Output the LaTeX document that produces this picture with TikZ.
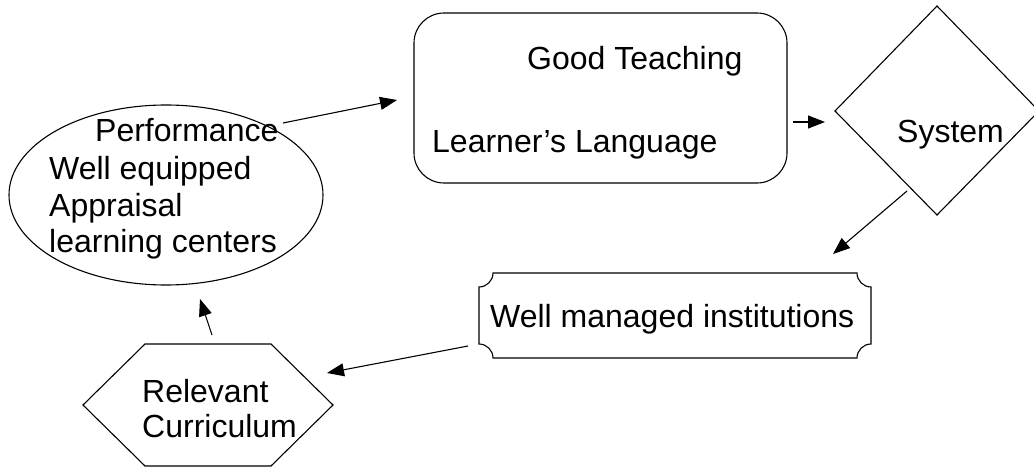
\documentclass[tikz,border=0pt]{standalone}
\usepackage{fontspec}
\setmainfont{Liberation Sans}
\usetikzlibrary{arrows.meta,shapes.geometric}
\tikzset{
  shape line/.style={draw=black, line width=1.1pt},
  txt/.style={anchor=base west, inner sep=0pt, font=\fontsize{32}{38}\selectfont},
  conn/.style={draw=black, line width=1.1pt, -{Triangle[length=17pt,width=13pt]}}
}
\begin{document}
\begin{tikzpicture}[x=1pt,y=-1pt]
\useasboundingbox (0,0) rectangle (1034,468);
% ellipse
\node[shape line, ellipse, minimum width=314pt, minimum height=180pt, inner sep=0pt] (perf) at (166,195) {};
% rounded rectangle
\draw[shape line, rounded corners=30pt] (414,13) rectangle (787,183);
% diamond
\draw[shape line] (937,6) -- (1039,111) -- (937,215) -- (835,111) -- cycle;
% plaque
\draw[shape line] (493,273) -- (857,273) .. controls (857,280.7) and (863.3,287) .. (871,287)
  -- (871,344) .. controls (863.3,344) and (857,350.3) .. (857,358)
  -- (493,358) .. controls (493,350.3) and (486.7,344) .. (479,344)
  -- (479,287) .. controls (486.7,287) and (493,280.7) .. (493,273) -- cycle;
% hexagon
\draw[shape line] (83,405) -- (145,344) -- (271,344) -- (333,405) -- (271,466) -- (145,466) -- cycle;
% texts
\node[txt] (t1) at (95,142) {Performance};
\node[txt] (t2) at (49,179) {Well equipped};
\node[txt] (t3) at (49,216) {Appraisal};
\node[txt] (t4) at (49,252) {learning centers};
\node[txt] (g1) at (527,70) {Good Teaching};
\node[txt] (g2) at (432,153) {Learner’s Language};
\node[txt] (sys) at (897,143) {System};
\node[txt] (wmi) at (490,327) {Well managed institutions};
\node[txt] (r1) at (142,402) {Relevant};
\node[txt] (r2) at (142,437) {Curriculum};
% connector ends
\coordinate (a1s) at (283,123); \coordinate (a1e) at (397,100);
\coordinate (a2s) at (793,122); \coordinate (a2e) at (825,122);
\coordinate (a3s) at (907,191); \coordinate (a3e) at (833,254);
\coordinate (a4s) at (468,346); \coordinate (a4e) at (327,373);
\coordinate (a5s) at (212,335); \coordinate (a5e) at (200,299);
\draw[conn] (a1s) -- (a1e);
\draw[conn] (a2s) -- (a2e);
\draw[conn] (a3s) -- (a3e);
\draw[conn] (a4s) -- (a4e);
\draw[conn] (a5s) -- (a5e);
\end{tikzpicture}
\end{document}
